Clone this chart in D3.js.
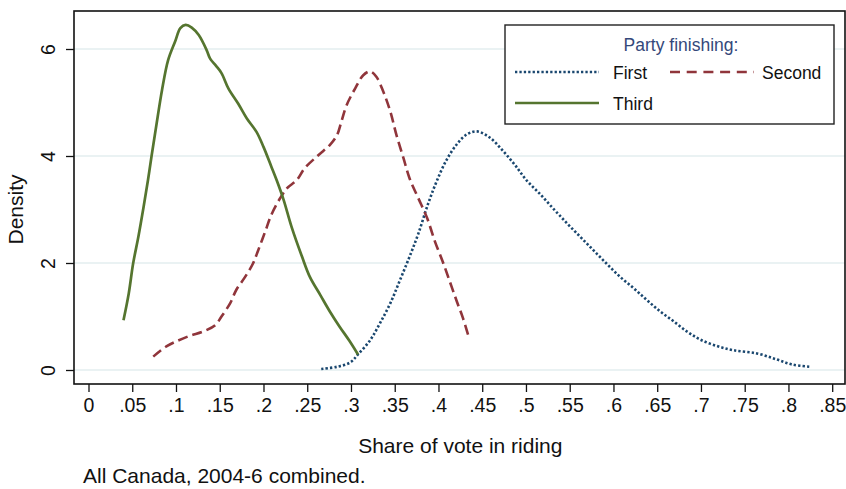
<!DOCTYPE html>
<html>
<head>
<meta charset="utf-8">
<script src="https://cdn.jsdelivr.net/npm/d3@7"></script>
<style>
  html, body { margin: 0; padding: 0; background: #fff; }
  svg { display: block; font-family: "Liberation Sans", Arial, Helvetica, sans-serif; }
</style>
</head>
<body>
<svg id="chart" width="846" height="489"></svg>
<script>
// Kernel density of vote share, by finishing position of the party
const firstShare = [0.266,0.284,0.299,0.308,0.322,0.333,0.345,0.356,0.367,0.377,0.388,0.398,0.409,0.421,0.432,0.444,0.459,0.474,0.487,0.501,0.516,0.531,0.547,0.562,0.577,0.592,0.607,0.623,0.638,0.653,0.668,0.684,0.699,0.718,0.737,0.764,0.786,0.805,0.825];
const firstDensity = [0.02,0.06,0.14,0.29,0.56,0.87,1.25,1.68,2.12,2.55,3.10,3.53,3.92,4.22,4.40,4.46,4.34,4.09,3.84,3.54,3.29,3.02,2.74,2.49,2.24,1.99,1.75,1.53,1.31,1.10,0.92,0.72,0.57,0.45,0.37,0.31,0.20,0.10,0.06];

const secondShare = [0.074,0.089,0.101,0.116,0.131,0.145,0.152,0.162,0.169,0.179,0.188,0.194,0.202,0.209,0.219,0.227,0.238,0.247,0.263,0.276,0.284,0.289,0.295,0.305,0.314,0.322,0.329,0.337,0.345,0.352,0.360,0.367,0.377,0.387,0.396,0.405,0.413,0.421,0.428,0.434];
const secondDensity = [0.25,0.44,0.54,0.64,0.72,0.84,1.00,1.25,1.50,1.74,1.99,2.24,2.59,2.90,3.21,3.40,3.55,3.77,4.02,4.21,4.39,4.64,4.95,5.27,5.51,5.58,5.48,5.20,4.83,4.39,3.96,3.58,3.21,2.84,2.40,2.02,1.65,1.28,0.97,0.65];

const thirdShare = [0.040,0.046,0.051,0.057,0.063,0.068,0.072,0.078,0.084,0.091,0.099,0.105,0.111,0.118,0.126,0.135,0.139,0.146,0.152,0.160,0.171,0.181,0.192,0.200,0.209,0.215,0.223,0.232,0.244,0.253,0.265,0.276,0.287,0.298,0.308];
const thirdDensity = [0.93,1.43,1.99,2.49,3.05,3.55,3.99,4.62,5.23,5.79,6.14,6.39,6.45,6.40,6.26,5.98,5.82,5.68,5.55,5.26,4.98,4.70,4.45,4.17,3.80,3.55,3.18,2.68,2.12,1.74,1.40,1.09,0.81,0.55,0.29];

const xTicks = [0,0.05,0.1,0.15,0.2,0.25,0.3,0.35,0.4,0.45,0.5,0.55,0.6,0.65,0.7,0.75,0.8,0.85];
const xTickLabels = ["0",".05",".1",".15",".2",".25",".3",".35",".4",".45",".5",".55",".6",".65",".7",".75",".8",".85"];
const yTicks = [0,2,4,6];

const seriesNames = ["First","Second","Third"];
const legendTitle = "Party finishing:";
const xTitle = "Share of vote in riding";
const yTitle = "Density";
const note = "All Canada, 2004-6 combined.";

const colors = { First: "#1a476f", Second: "#90353b", Third: "#55752f" };
const dashes = { First: "2.3,2.1", Second: "10,5", Third: null };
const widths = { First: 2.6, Second: 2.6, Third: 2.7 };

const svg = d3.select("#chart");

// plot region
const plot = { left: 74, right: 845, top: 11, bottom: 384 };

const x = d3.scaleLinear().domain([0, 0.85]).range([88.5, 832.2]);
const y = d3.scaleLinear().domain([0, 6]).range([370, 49]);

// horizontal grid
svg.append("g")
  .selectAll("line")
  .data(yTicks)
  .join("line")
  .attr("x1", plot.left).attr("x2", plot.right)
  .attr("y1", d => y(d)).attr("y2", d => y(d))
  .attr("stroke", "#eaf2f3")
  .attr("stroke-width", 2);

// density curves
const series = seriesNames.map((name, i) => ({
  name,
  xs: [firstShare, secondShare, thirdShare][i],
  ys: [firstDensity, secondDensity, thirdDensity][i]
}));

const line = d3.line()
  .x(d => x(d[0]))
  .y(d => y(d[1]))
  .curve(d3.curveCatmullRom.alpha(0.5));

svg.append("g")
  .selectAll("path")
  .data(series)
  .join("path")
  .attr("d", s => line(d3.zip(s.xs, s.ys)))
  .attr("fill", "none")
  .attr("stroke", s => colors[s.name])
  .attr("stroke-width", s => widths[s.name])
  .attr("stroke-dasharray", s => dashes[s.name])
  .attr("stroke-linejoin", "round");

// frame
svg.append("rect")
  .attr("x", plot.left).attr("y", plot.top)
  .attr("width", plot.right - plot.left)
  .attr("height", plot.bottom - plot.top)
  .attr("fill", "none")
  .attr("stroke", "#111")
  .attr("stroke-width", 1.6);

// x axis
const xAxis = d3.axisBottom(x)
  .tickValues(xTicks)
  .tickFormat((d, i) => xTickLabels[i])
  .tickSize(8)
  .tickPadding(6);

const gx = svg.append("g")
  .attr("transform", `translate(0,${plot.bottom})`)
  .call(xAxis);
gx.select(".domain").remove();
gx.selectAll(".tick line").attr("stroke", "#111").attr("stroke-width", 1.3);
gx.selectAll(".tick text")
  .attr("fill", "#111")
  .style("font-size", "19.5px")
  .style("font-family", "'Liberation Sans', Arial, sans-serif");

// y axis
const yAxis = d3.axisLeft(y)
  .tickValues(yTicks)
  .tickFormat(d3.format("d"))
  .tickSize(8)
  .tickPadding(0);

const gy = svg.append("g")
  .attr("transform", `translate(${plot.left},0)`)
  .call(yAxis);
gy.select(".domain").remove();
gy.selectAll(".tick line").attr("stroke", "#111").attr("stroke-width", 1.3);
gy.selectAll(".tick text")
  .attr("x", null).attr("dy", null)
  .attr("text-anchor", "middle")
  .attr("transform", "translate(-19,0) rotate(-90)")
  .attr("fill", "#111")
  .style("font-size", "19.5px")
  .style("font-family", "'Liberation Sans', Arial, sans-serif");

// axis titles and note
svg.append("text")
  .attr("x", x(0.425)).attr("y", 453)
  .attr("text-anchor", "middle")
  .style("font-size", "21px")
  .attr("fill", "#111")
  .text(xTitle);

svg.append("text")
  .attr("transform", `translate(23,${y(3)}) rotate(-90)`)
  .attr("text-anchor", "middle")
  .style("font-size", "21px")
  .attr("fill", "#111")
  .text(yTitle);

svg.append("text")
  .attr("x", 83).attr("y", 483)
  .style("font-size", "21px")
  .attr("fill", "#111")
  .text(note);

// legend
const lg = svg.append("g");
lg.append("rect")
  .attr("x", 505).attr("y", 25)
  .attr("width", 329).attr("height", 99)
  .attr("fill", "#fff")
  .attr("stroke", "#222")
  .attr("stroke-width", 1.4);

lg.append("text")
  .attr("x", 681).attr("y", 51)
  .attr("text-anchor", "middle")
  .style("font-size", "17.5px")
  .attr("fill", "#34487a")
  .text(legendTitle);

const legendItems = [
  { name: "First", lx: 515, ly: 72, tx: 613 },
  { name: "Second", lx: 670, ly: 72, tx: 762 },
  { name: "Third", lx: 515, ly: 103, tx: 613 }
];

const li = lg.selectAll("g.item")
  .data(legendItems)
  .join("g")
  .attr("class", "item");

li.append("line")
  .attr("x1", d => d.lx).attr("x2", d => d.lx + 84)
  .attr("y1", d => d.ly).attr("y2", d => d.ly)
  .attr("stroke", d => colors[d.name])
  .attr("stroke-width", d => widths[d.name])
  .attr("stroke-dasharray", d => d.name === "Second" ? "10,6.7" : dashes[d.name]);

li.append("text")
  .attr("x", d => d.tx).attr("y", d => d.ly + 7)
  .style("font-size", "17.5px")
  .attr("fill", "#111")
  .text(d => d.name);
</script>
</body>
</html>
